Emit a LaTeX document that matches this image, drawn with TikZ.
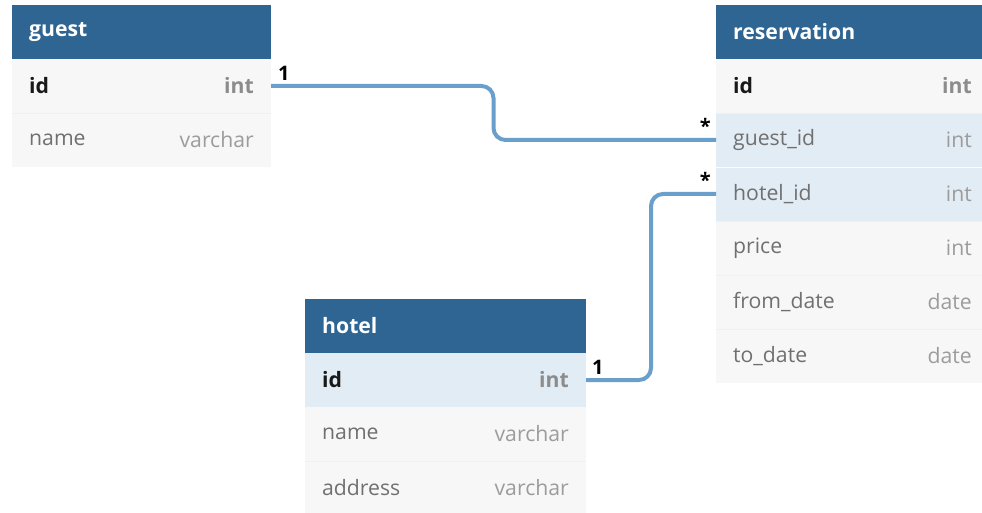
\documentclass[tikz,border=0pt]{standalone}
\usepackage{fontspec}
\setmainfont{Open Sans}
\usetikzlibrary{calc}

\definecolor{hdrblue}{HTML}{2F6593}
\definecolor{rowbg}{HTML}{F7F7F7}
\definecolor{rowhl}{HTML}{E1ECF4}
\definecolor{rowline}{HTML}{F0F0F0}
\definecolor{linkblue}{HTML}{6A9FCC}
\definecolor{fieldgray}{HTML}{707070}
\definecolor{typegray}{HTML}{9C9C9C}
\definecolor{keygray}{HTML}{8C8C8C}

\tikzset{
  cell/.style={anchor=north west, inner sep=0pt, outer sep=0pt,
    minimum height=54pt, draw=none},
  headcell/.style={cell, fill=hdrblue},
  plaincell/.style={cell, fill=rowbg},
  hlcell/.style={cell, fill=rowhl},
  headtext/.style={anchor=west, inner sep=0pt, text=white,
    font=\fontsize{21.2}{24}\selectfont\bfseries},
  fieldtext/.style={anchor=west, inner sep=0pt, text=fieldgray,
    font=\fontsize{21.2}{24}\selectfont},
  typetext/.style={anchor=east, inner sep=0pt, text=typegray,
    font=\fontsize{21.2}{24}\selectfont},
  keytext/.style={fieldtext, text=black!90, font=\fontsize{21.2}{24}\selectfont\bfseries},
  keytype/.style={typetext, text=keygray, font=\fontsize{21.2}{24}\selectfont\bfseries},
  link/.style={draw=linkblue, line width=4pt, rounded corners=12pt},
  card/.style={inner sep=0pt, text=black,
    font=\fontsize{20}{22}\selectfont\bfseries},
}

% \ertrow{name}{x}{y}{width}{cell style}{field}{type}{field style}{type style}
\newcommand\ertrow[9]{%
  \node[#5, minimum width=#4pt] (#1) at (#2,#3) {};
  \node[#8] at ([xshift=17pt]#1.west) {#6};
  \node[#9] at ([xshift=-17pt]#1.east) {#7};
}
% \erthead{name}{x}{y}{width}{title}
\newcommand\erthead[5]{%
  \node[headcell, minimum width=#4pt] (#1) at (#2,#3) {};
  \node[headtext] at ([xshift=17pt]#1.west) {#5};
}

\begin{document}
\begin{tikzpicture}[x=1pt,y=-1pt]
  \fill[white] (0,0) rectangle (982,513);
  \clip (0,0) rectangle (982,513);
  \useasboundingbox (0,0) rectangle (982,513);

  % guest
  \erthead{guest}{12}{5}{259}{guest}
  \ertrow{guest-id}{12}{59}{259}{plaincell}{id}{int}{keytext}{keytype}
  \ertrow{guest-name}{12}{113}{259}{plaincell}{name}{varchar}{fieldtext}{typetext}
  \draw[rowline, line width=0.6pt] (guest-id.south west) -- (guest-id.south east);

  % reservation (runs past the right edge of the page)
  \erthead{res}{716}{5}{273}{reservation}
  \ertrow{res-id}{716}{59}{273}{plaincell}{id}{int}{keytext}{keytype}
  \ertrow{res-guest}{716}{113}{273}{hlcell}{guest\_id}{int}{fieldtext}{typetext}
  \ertrow{res-hotel}{716}{167}{273}{hlcell}{hotel\_id}{int}{fieldtext}{typetext}
  \ertrow{res-price}{716}{221}{273}{plaincell}{price}{int}{fieldtext}{typetext}
  \ertrow{res-from}{716}{275}{273}{plaincell}{from\_date}{date}{fieldtext}{typetext}
  \ertrow{res-to}{716}{329}{273}{plaincell}{to\_date}{date}{fieldtext}{typetext}
  \foreach \r in {res-guest,res-price,res-from}
    \draw[rowline, line width=0.6pt] (\r.north west) -- (\r.north east);
  \draw[white!85!rowhl, line width=0.6pt] (res-hotel.north west) -- (res-hotel.north east);
  \draw[rowline, line width=0.6pt] (res-to.north west) -- (res-to.north east);

  % hotel
  \erthead{hotel}{305}{299}{281}{hotel}
  \ertrow{hotel-id}{305}{353}{281}{hlcell}{id}{int}{keytext}{keytype}
  \ertrow{hotel-name}{305}{407}{281}{plaincell}{name}{varchar}{fieldtext}{typetext}
  \ertrow{hotel-addr}{305}{461}{281}{plaincell}{address}{varchar}{fieldtext}{typetext}
  \draw[rowline, line width=0.6pt] (hotel-addr.north west) -- (hotel-addr.north east);

  % relations
  \coordinate (m1) at ($(guest-id.east)!0.5!(res-guest.west)$);
  \coordinate (m2) at ($(hotel-id.east)!0.5!(res-hotel.west)$);
  \draw[link] (guest-id.east) -| (m1) |- (res-guest.west);
  \draw[link] (hotel-id.east) -| (m2) |- (res-hotel.west);

  % cardinalities
  \node[card, anchor=south west] at ([xshift=7pt,yshift=5pt]guest-id.east) {1};
  \node[card, anchor=south west] at ([xshift=6pt,yshift=5pt]hotel-id.east) {1};
  \node[card, anchor=south east] at ([xshift=-5pt,yshift=6.5pt]res-guest.west) {*};
  \node[card, anchor=south east] at ([xshift=-5pt,yshift=6.5pt]res-hotel.west) {*};
\end{tikzpicture}
\end{document}
